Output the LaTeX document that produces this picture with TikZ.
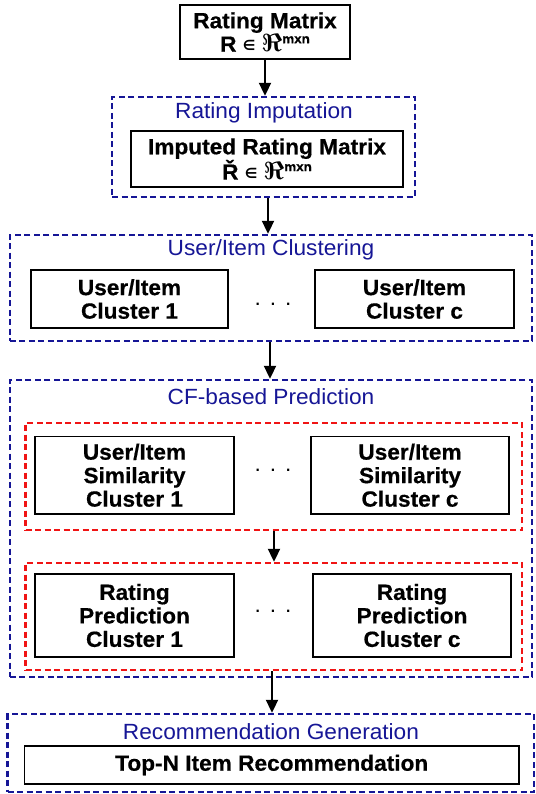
\documentclass[tikz,border=0pt]{standalone}
\usepackage{fontspec}
\setmainfont[FakeStretch=1.03,BoldFeatures={FakeBold=0.5}]{Liberation Sans}
\newfontfamily\djvfont{DejaVu Sans}
\usetikzlibrary{arrows.meta}
\definecolor{navyb}{RGB}{22,22,150}
\definecolor{redd}{RGB}{240,20,20}
\newcommand{\myRe}{{\fontsize{23}{23}\selectfont\boldmath$\Re$}}
\newcommand{\mysupmxn}{\raisebox{8.5pt}{\fontsize{13}{13}\selectfont\bfseries mxn}}
\newcommand{\myelem}{\raisebox{1pt}{\fontsize{14}{14}\selectfont\djvfont\bfseries ∈}}
\begin{document}
\begin{tikzpicture}[x=1pt,y=-1pt,
 box/.style={draw=black,line width=1.8pt,inner sep=0pt,align=center,font=\fontsize{22}{23.5}\selectfont\bfseries},
 bluebox/.style={draw=navyb,line width=2.4pt,dash pattern=on 6pt off 3.5pt,inner sep=0pt},
 redbox/.style={draw=redd,line width=2.4pt,dash pattern=on 6pt off 3.5pt,inner sep=0pt},
 lbl/.style={text=navyb,font=\fontsize{22}{23.5}\selectfont,inner sep=0pt},
 dotsnode/.style={font=\fontsize{22}{23.5}\selectfont,inner sep=0pt,anchor=base},
 arr/.style={line width=2pt,-{Triangle[length=13pt,width=12pt]}}]
\fill[white] (0,0) rectangle (535,794);
\useasboundingbox (0,0) rectangle (535,794);

% stage 1
\node[box,minimum width=170pt,minimum height=54pt] (rm) at (265,32) {Rating Matrix\\R \myelem\ \myRe\mysupmxn};

% stage 2
\node[bluebox,minimum width=303pt,minimum height=100pt] (imp) at (263.5,147) {};
\node[lbl] (implbl) at (264,113) {Rating Imputation};
\node[box,minimum width=272pt,minimum height=56pt] (irm) at (267,159) {Imputed Rating Matrix\\Ř \myelem\ \myRe\mysupmxn};

% stage 3
\node[bluebox,minimum width=522.5pt,minimum height=106pt] (clu) at (271,288) {};
\node[lbl] (clulbl) at (271,250) {User/Item Clustering};
\node[box,minimum width=197pt,minimum height=58pt] (c1) at (129.5,299) {User/Item\\Cluster 1};
\node[box,minimum width=199pt,minimum height=58pt] (cc) at (414.5,299) {User/Item\\Cluster c};
\node[dotsnode] (d1) at (273,305) {.\hspace{9pt}.\hspace{9pt}.};

% stage 4
\node[bluebox,minimum width=522.5pt,minimum height=297pt] (cf) at (271,528.5) {};
\node[lbl] (cflbl) at (271,397) {CF-based Prediction};
\node[redbox,minimum width=496.5pt,minimum height=107pt] (sim) at (273.75,476.5) {};
\node[box,minimum width=199pt,minimum height=77.5pt] (s1) at (134.5,475.25) {User/Item\\Similarity\\Cluster 1};
\node[box,minimum width=198pt,minimum height=77.5pt] (sc) at (410,475.25) {User/Item\\Similarity\\Cluster c};
\node[dotsnode] (d2) at (273,471) {.\hspace{9pt}.\hspace{9pt}.};
\node[redbox,minimum width=496.5pt,minimum height=107pt] (pred) at (273.75,616.5) {};
\node[box,minimum width=199pt,minimum height=83pt] (p1) at (134.5,615.5) {Rating\\Prediction\\Cluster 1};
\node[box,minimum width=198pt,minimum height=83pt] (pc) at (412,615.5) {Rating\\Prediction\\Cluster c};
\node[dotsnode] (d3) at (273,612) {.\hspace{9pt}.\hspace{9pt}.};

% stage 5
\node[bluebox,minimum width=526.5pt,minimum height=78pt] (rec) at (270.75,753) {};
\node[lbl] (reclbl) at (271,732) {Recommendation Generation};
\node[box,minimum width=494.5pt,minimum height=38pt] (topn) at (271.75,765) {Top-N Item Recommendation};

% arrows
\draw[arr] (rm.south) -- (rm.south |- imp.north);
\coordinate (a2) at (268,0);
\draw[arr] (a2 |- imp.south) -- (a2 |- clu.north);
\coordinate (a3) at (270,0);
\draw[arr] (a3 |- clu.south) -- (a3 |- cf.north);
\coordinate (a4) at (274,0);
\draw[arr] (a4 |- sim.south) -- (a4 |- pred.north);
\coordinate (a5) at (272,0);
\draw[arr] (a5 |- pred.south) -- (a5 |- rec.north);
\end{tikzpicture}
\end{document}
